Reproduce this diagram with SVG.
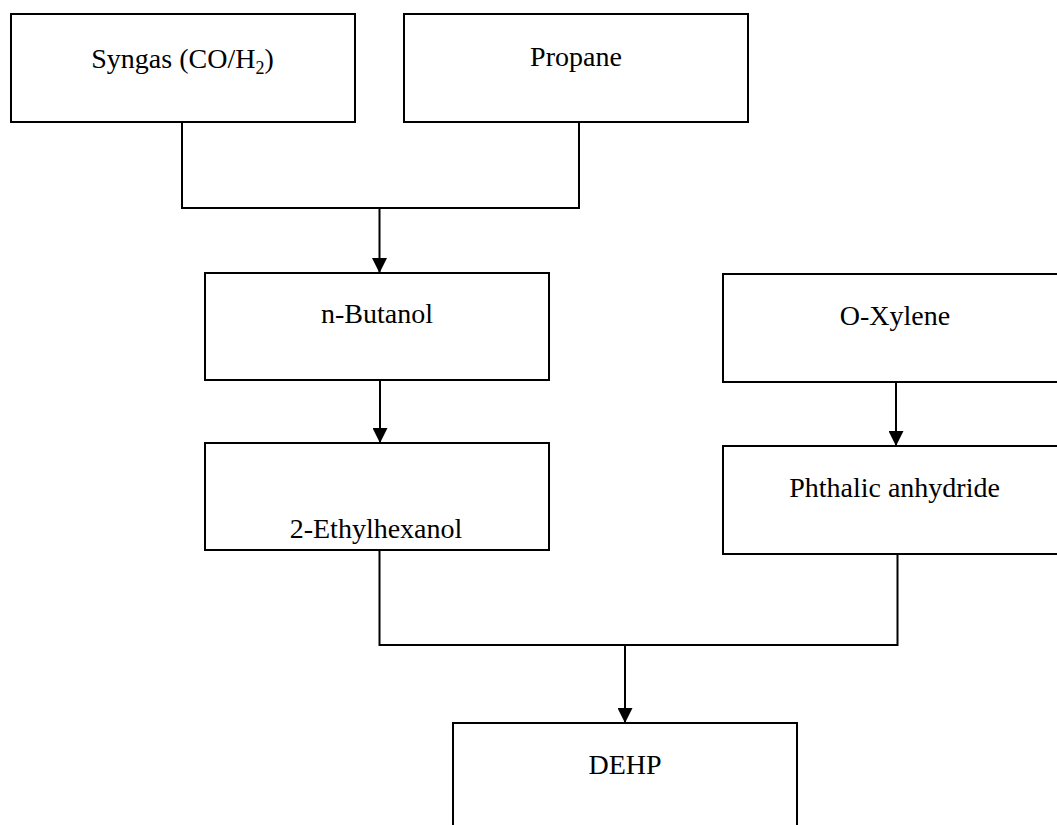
<svg xmlns="http://www.w3.org/2000/svg" width="1057" height="825" viewBox="0 0 1057 825">
  <style>
    .box { fill: #ffffff; stroke: #000000; stroke-width: 2; }
    .label { font-family: "Liberation Serif", "Times New Roman", serif; font-size: 28px; fill: #000000; text-anchor: middle; }
    .wire { fill: none; stroke: #000000; stroke-width: 2; }
  </style>
  <defs>
    <marker id="arrow" markerUnits="userSpaceOnUse" markerWidth="15" markerHeight="15" refX="15" refY="7.5" orient="auto">
      <path d="M0,0 L15,7.5 L0,15 Z" fill="#000000"/>
    </marker>
  </defs>

  <rect width="1057" height="825" fill="#ffffff"/>

  <!-- connectors -->
  <g id="connectors">
    <polyline class="wire" points="182,122 182,208 579,208 579,122"/>
    <line class="wire" x1="379.5" y1="208" x2="379.5" y2="273" marker-end="url(#arrow)"/>
    <line class="wire" x1="380" y1="380" x2="380" y2="443" marker-end="url(#arrow)"/>
    <line class="wire" x1="896" y1="382" x2="896" y2="446" marker-end="url(#arrow)"/>
    <polyline class="wire" points="379.5,550 379.5,645 897.5,645 897.5,554"/>
    <line class="wire" x1="625" y1="645" x2="625" y2="723" marker-end="url(#arrow)"/>
  </g>

  <!-- nodes -->
  <g id="syngas">
    <rect class="box" x="11" y="14" width="344" height="108"/>
    <text class="label" x="182.5" y="68">Syngas (CO/H<tspan font-size="18" dy="6">2</tspan><tspan dy="-6">)</tspan></text>
  </g>
  <g id="propane">
    <rect class="box" x="404" y="14" width="344" height="108"/>
    <text class="label" x="576" y="66">Propane</text>
  </g>
  <g id="n-butanol">
    <rect class="box" x="205" y="273" width="344" height="107"/>
    <text class="label" x="377" y="323">n-Butanol</text>
  </g>
  <g id="o-xylene">
    <rect class="box" x="723" y="274" width="344" height="108"/>
    <text class="label" x="895" y="325">O-Xylene</text>
  </g>
  <g id="ethylhexanol">
    <rect class="box" x="205" y="443" width="344" height="107"/>
    <text class="label" x="376" y="538">2-Ethylhexanol</text>
  </g>
  <g id="phthalic-anhydride">
    <rect class="box" x="723" y="446" width="344" height="108"/>
    <text class="label" x="894.5" y="497">Phthalic anhydride</text>
  </g>
  <g id="dehp">
    <rect class="box" x="453" y="723" width="344" height="120"/>
    <text class="label" x="625" y="774">DEHP</text>
  </g>
</svg>
